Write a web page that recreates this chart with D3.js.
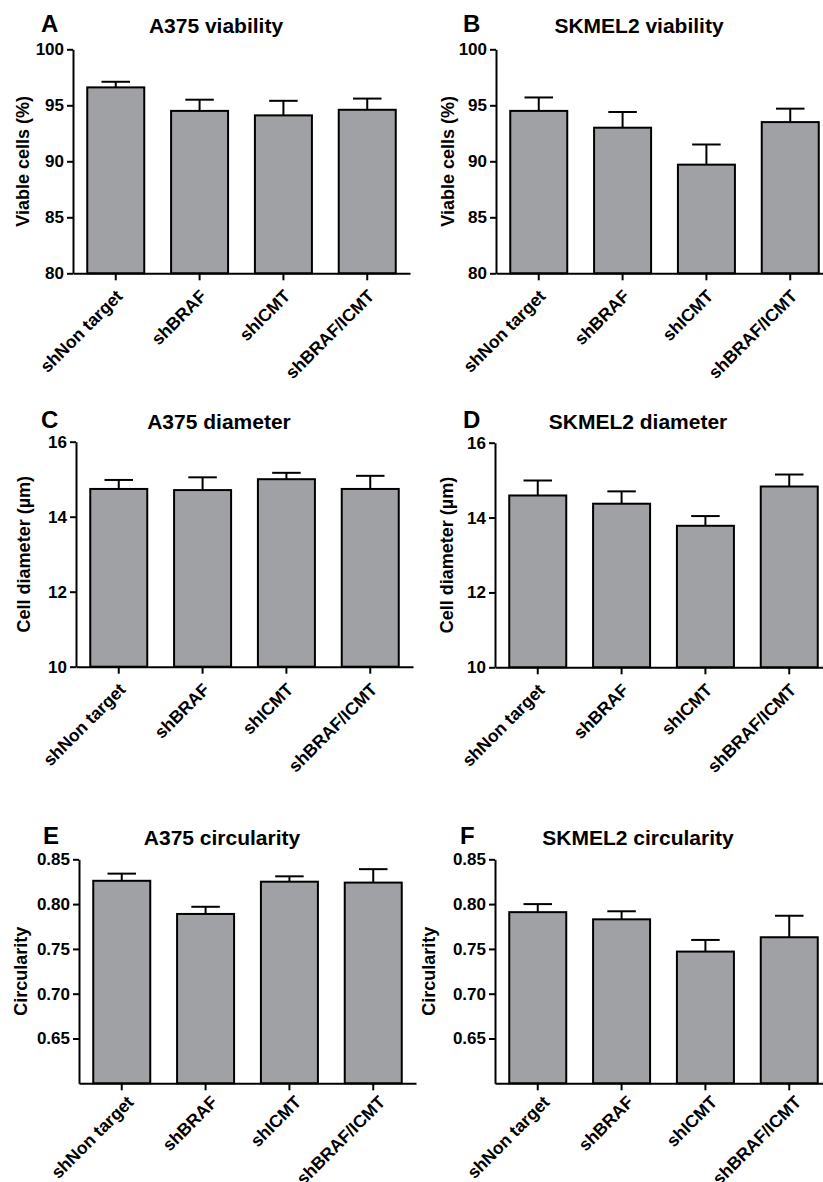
<!DOCTYPE html>
<html>
<head>
<meta charset="utf-8">
<script src="https://cdn.jsdelivr.net/npm/d3@7"></script>
<style>
  body { margin: 0; background: #fff; }
  text { font-family: "Liberation Sans", Arial, sans-serif; font-weight: bold; }
</style>
</head>
<body>
<svg id="fig" width="823" height="1182"></svg>
<script>
// groups on the x axis (same for every panel)
var categories = ['shNon target', 'shBRAF', 'shICMT', 'shBRAF/ICMT']

// mean and SEM
var a375Viability      = [96.6, 94.5, 94.1, 94.6]
var a375ViabilityErr   = [0.5, 1.0, 1.3, 1.0]
var skmelViability     = [94.5, 93.0, 89.7, 93.5]
var skmelViabilityErr  = [1.2, 1.4, 1.8, 1.2]
var a375Diameter       = [14.74, 14.71, 15.0, 14.74]
var a375DiameterErr    = [0.24, 0.34, 0.17, 0.35]
var skmelDiameter      = [14.59, 14.37, 13.78, 14.83]
var skmelDiameterErr   = [0.40, 0.33, 0.26, 0.32]
var a375Circ           = [0.826, 0.789, 0.825, 0.824]
var a375CircErr        = [0.008, 0.008, 0.006, 0.015]
var skmelCirc          = [0.791, 0.783, 0.747, 0.763]
var skmelCircErr       = [0.009, 0.009, 0.013, 0.024]

// tick labels
var viabilityTicks   = [80, 85, 90, 95, 100]
var diameterTicks    = [10, 12, 14, 16]
var circularityTicks = [0.65, 0.70, 0.75, 0.80, 0.85]

var barFill = '#a0a1a5'
var plotWidth = 337

var svg = d3.select('#fig')

svg.append('rect')
    .attr('width', 823)
    .attr('height', 1182)
    .attr('fill', '#fff')

function drawPanel(p) {
    var x = d3.scaleBand()
        .domain(categories)
        .range([p.x0, p.x0 + plotWidth])
        .paddingInner(0.32)
        .paddingOuter(0.17)

    var y = d3.scaleLinear()
        .domain(p.domain)
        .range([p.bottom, p.top])

    var rows = categories.map(function(c, i) {
        return {name: c, value: p.values[i], err: p.errors[i]}
    })

    var g = svg.append('g')

    // error bars (upper only, drawn under the bar so the bar edge covers the stem)
    var eb = g.selectAll('.err')
        .data(rows)
        .join('g')
        .attr('class', 'err')
    eb.append('line')
        .attr('x1', function(d) { return x(d.name) + x.bandwidth() / 2 })
        .attr('x2', function(d) { return x(d.name) + x.bandwidth() / 2 })
        .attr('y1', function(d) { return y(d.value) })
        .attr('y2', function(d) { return y(d.value + d.err) })
        .attr('stroke', '#000')
        .attr('stroke-width', 2)
    eb.append('line')
        .attr('x1', function(d) { return x(d.name) + x.bandwidth() / 4 })
        .attr('x2', function(d) { return x(d.name) + x.bandwidth() * 3 / 4 })
        .attr('y1', function(d) { return y(d.value + d.err) })
        .attr('y2', function(d) { return y(d.value + d.err) })
        .attr('stroke', '#000')
        .attr('stroke-width', 2)

    g.selectAll('.bar')
        .data(rows)
        .join('rect')
        .attr('class', 'bar')
        .attr('x', function(d) { return x(d.name) })
        .attr('width', x.bandwidth())
        .attr('y', function(d) { return y(d.value) })
        .attr('height', function(d) { return p.bottom - y(d.value) })
        .attr('fill', barFill)
        .attr('stroke', '#000')
        .attr('stroke-width', 2)

    // y axis
    var ya = g.append('g')
        .attr('transform', 'translate(' + p.x0 + ',0)')
        .call(d3.axisLeft(y)
            .tickValues(p.ticks)
            .tickFormat(p.fmt)
            .tickSize(6)
            .tickSizeOuter(0)
            .tickPadding(3))
    ya.selectAll('path, line').attr('stroke', '#000').attr('stroke-width', 2)
    ya.selectAll('text')
        .attr('fill', '#000')
        .attr('font-size', 17)
        .style('font-family', '"Liberation Sans", Arial, sans-serif')

    // x axis
    var xa = g.append('g')
        .attr('transform', 'translate(0,' + p.bottom + ')')
        .call(d3.axisBottom(x).tickSize(7).tickSizeOuter(0).tickFormat(''))
    xa.selectAll('path, line').attr('stroke', '#000').attr('stroke-width', 2)

    g.selectAll('.xlab')
        .data(categories)
        .join('text')
        .attr('class', 'xlab')
        .attr('text-anchor', 'end')
        .attr('font-size', 17.5)
        .attr('transform', function(d) {
            var cx = x(d) + x.bandwidth() / 2 + p.labDx
            var cy = p.bottom + p.labDy
            return 'translate(' + cx + ',' + cy + ') rotate(-45)'
        })
        .text(function(d) { return d })

    // y axis title
    g.append('text')
        .attr('text-anchor', 'middle')
        .attr('font-size', 18)
        .attr('transform', 'translate(' + (p.x0 - p.labelOffset) + ',' + ((p.top + p.bottom) / 2) + ') rotate(-90)')
        .attr('dy', '0.35em')
        .text(p.ylabel)

    // panel title and letter
    g.append('text')
        .attr('x', p.x0 + 143)
        .attr('y', p.titleY)
        .attr('text-anchor', 'middle')
        .attr('font-size', 21)
        .text(p.title)

    g.append('text')
        .attr('x', p.letterX)
        .attr('y', p.titleY - 1)
        .attr('font-size', 24)
        .text(p.letter)
}

var fmt0 = d3.format('d')
var fmt2 = d3.format('.2f')

drawPanel({letter: 'A', title: 'A375 viability', ylabel: 'Viable cells (%)',
    values: a375Viability, errors: a375ViabilityErr, ticks: viabilityTicks, fmt: fmt0,
    domain: [80, 100], x0: 73, top: 49.3, bottom: 273.3, titleY: 33, letterX: 41, labelOffset: 50, labDx: 8, labDy: 24})
drawPanel({letter: 'B', title: 'SKMEL2 viability', ylabel: 'Viable cells (%)',
    values: skmelViability, errors: skmelViabilityErr, ticks: viabilityTicks, fmt: fmt0,
    domain: [80, 100], x0: 496, top: 49.3, bottom: 273.3, titleY: 33, letterX: 463, labelOffset: 48, labDx: 8, labDy: 24})
drawPanel({letter: 'C', title: 'A375 diameter', ylabel: 'Cell diameter (\u00b5m)',
    values: a375Diameter, errors: a375DiameterErr, ticks: diameterTicks, fmt: fmt0,
    domain: [10, 16], x0: 76, top: 441.7, bottom: 666.7, titleY: 429, letterX: 41, labelOffset: 52, labDx: 8, labDy: 24})
drawPanel({letter: 'D', title: 'SKMEL2 diameter', ylabel: 'Cell diameter (\u00b5m)',
    values: skmelDiameter, errors: skmelDiameterErr, ticks: diameterTicks, fmt: fmt0,
    domain: [10, 16], x0: 495, top: 442.7, bottom: 667.3, titleY: 429, letterX: 463, labelOffset: 48, labDx: 8, labDy: 24})
drawPanel({letter: 'E', title: 'A375 circularity', ylabel: 'Circularity',
    values: a375Circ, errors: a375CircErr, ticks: circularityTicks, fmt: fmt2,
    domain: [0.6, 0.85], x0: 79, top: 859.3, bottom: 1083.3, titleY: 845, letterX: 43, labelOffset: 58, labDx: 13, labDy: 20})
drawPanel({letter: 'F', title: 'SKMEL2 circularity', ylabel: 'Circularity',
    values: skmelCirc, errors: skmelCircErr, ticks: circularityTicks, fmt: fmt2,
    domain: [0.6, 0.85], x0: 495, top: 859.3, bottom: 1083.3, titleY: 845, letterX: 460, labelOffset: 66, labDx: 13, labDy: 20})
</script>
</body>
</html>
